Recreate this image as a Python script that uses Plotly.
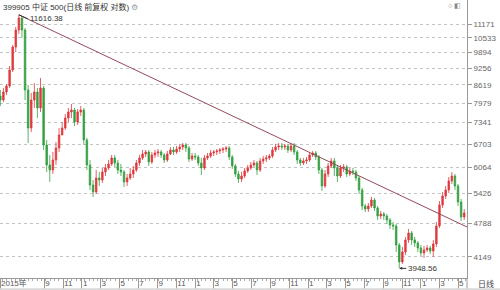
import math
import pandas as pd
import plotly.graph_objects as go

# ---- data (one candle per ~10 calendar days) ----
dates = pd.date_range("2015-04-12", periods=151, freq="10D")

open_ = [8223, 8084, 8365, 8581, 9185, 10130, 10889, 11461, 10889, 8436,
         7176, 8084, 8365, 7814, 8508, 6675, 6131, 6002, 6263, 6591,
         6966, 7176, 7486, 7682, 7747, 7362, 7682, 7747, 6819, 6131,
         5631, 5466, 5801, 5752, 5951, 6054, 6157, 6317, 6184, 6002,
         5951, 5704, 5801, 5900, 6002, 6184, 6317, 6425, 6480, 6210,
         6397, 6452, 6480, 6397, 6263, 6425, 6535, 6480, 6563, 6619,
         6675, 6591, 6290, 6370, 6343, 6184, 6054, 6317, 6370, 6452,
         6480, 6507, 6535, 6563, 6591, 6343, 6105, 5900, 5777, 5850,
         5977, 6054, 6131, 6184, 6002, 6237, 6290, 6317, 6370, 6535,
         6619, 6647, 6619, 6647, 6535, 6647, 6480, 6263, 6184, 6237,
         6263, 6397, 6452, 6343, 6002, 5607, 5900, 6105, 6237, 6054,
         5850, 6054, 6079, 5900, 5977, 5951, 5801, 5512, 5149, 5084,
         5149, 5282, 5106, 4935, 4977, 4935, 4852, 4749, 4729, 4362,
         4058, 4234, 4456, 4590, 4456, 4400, 4307, 4216, 4270, 4307,
         4252, 4381, 4729, 5171, 5373, 5512, 5728, 5850, 5607, 5238,
         4914]

close_ = [8084, 8365, 8581, 9185, 10130, 10889, 11461, 10889, 8436, 7176,
          8084, 8365, 7814, 8508, 6675, 6131, 6002, 6263, 6591, 6966,
          7176, 7486, 7682, 7747, 7362, 7682, 7747, 6819, 6131, 5631,
          5466, 5801, 5752, 5951, 6054, 6157, 6317, 6184, 6002, 5951,
          5704, 5801, 5900, 6002, 6184, 6317, 6425, 6480, 6210, 6397,
          6452, 6480, 6397, 6263, 6425, 6535, 6480, 6563, 6619, 6675,
          6591, 6290, 6370, 6343, 6184, 6054, 6317, 6370, 6452, 6480,
          6507, 6535, 6563, 6591, 6343, 6105, 5900, 5777, 5850, 5977,
          6054, 6131, 6184, 6002, 6237, 6290, 6317, 6370, 6535, 6619,
          6647, 6619, 6647, 6535, 6647, 6480, 6263, 6184, 6237, 6263,
          6397, 6452, 6343, 6002, 5607, 5900, 6105, 6237, 6054, 5850,
          6054, 6079, 5900, 5977, 5951, 5801, 5512, 5149, 5084, 5149,
          5282, 5106, 4935, 4977, 4935, 4852, 4749, 4729, 4362, 4058,
          4234, 4456, 4590, 4456, 4400, 4307, 4216, 4270, 4307, 4252,
          4381, 4729, 5171, 5373, 5512, 5728, 5850, 5607, 5238, 4914,
          4998]

high_ = [8436, 8508, 8654, 9343, 10216, 11030, 11616.38, 11558, 10983, 8617,
         8329, 8691, 8508, 8878, 8581, 6819, 6397, 6480, 6761, 7176,
         7362, 7617, 7814, 7948, 7814, 7780, 7881, 7814, 6878, 6263,
         5752, 6002, 5951, 6054, 6157, 6263, 6397, 6397, 6263, 6157,
         6002, 5900, 6054, 6105, 6263, 6397, 6535, 6535, 6535, 6480,
         6535, 6563, 6535, 6452, 6507, 6619, 6619, 6647, 6704, 6733,
         6733, 6647, 6452, 6452, 6397, 6317, 6397, 6452, 6535, 6535,
         6563, 6591, 6619, 6647, 6647, 6397, 6157, 5977, 5951, 6054,
         6131, 6210, 6263, 6237, 6317, 6370, 6397, 6425, 6619, 6704,
         6733, 6733, 6704, 6704, 6733, 6733, 6535, 6317, 6317, 6343,
         6452, 6507, 6507, 6397, 6054, 6002, 6184, 6317, 6317, 6131,
         6131, 6157, 6131, 6054, 6054, 6002, 5850, 5560, 5193, 5215,
         5350, 5328, 5149, 5041, 5020, 4977, 4894, 4811, 4770, 4400,
         4325, 4513, 4669, 4629, 4513, 4437, 4362, 4344, 4362, 4344,
         4456, 4811, 5260, 5466, 5607, 5826, 5951, 5900, 5655, 5305,
         5084]

low_ = [7881, 8016, 8258, 8508, 9108, 9917, 10706, 10526, 8084, 6733,
        7055, 7814, 7486, 7682, 6535, 5951, 5704, 5900, 6131, 6480,
        6996, 7115, 7362, 7486, 7237, 7268, 7552, 6675, 6002, 5512,
        5350, 5419, 5607, 5679, 5850, 6002, 6105, 6079, 5900, 5850,
        5583, 5607, 5752, 5801, 5951, 6105, 6263, 6343, 6105, 6157,
        6317, 6343, 6317, 6184, 6210, 6397, 6397, 6425, 6480, 6535,
        6480, 6210, 6237, 6263, 6105, 5875, 6002, 6263, 6317, 6370,
        6397, 6425, 6452, 6480, 6263, 6028, 5826, 5679, 5704, 5801,
        5926, 6002, 6079, 5875, 5951, 6157, 6210, 6263, 6317, 6480,
        6535, 6535, 6535, 6452, 6480, 6397, 6157, 6105, 6131, 6157,
        6210, 6343, 6263, 5900, 5489, 5560, 5826, 6054, 5850, 5704,
        5801, 5951, 5826, 5850, 5875, 5728, 5419, 5062, 5020, 5020,
        5106, 5041, 4852, 4873, 4852, 4770, 4669, 4649, 4234, 3948.56,
        4023, 4180, 4400, 4362, 4325, 4234, 4162, 4127, 4234, 4198,
        4145, 4325, 4689, 5106, 5305, 5442, 5655, 5512, 5149, 4831,
        4852]

y_ticks = [11171, 10533, 9894, 9256, 8619, 7979, 7341, 6703, 6064, 5426, 4788, 4149]

x_tick_dates = ["2015-04-11", "2015-09-01", "2015-11-01",
                "2016-01-01", "2016-03-01", "2016-05-01", "2016-07-01", "2016-09-01", "2016-11-01",
                "2017-01-01", "2017-03-01", "2017-05-01", "2017-07-01", "2017-09-01", "2017-11-01",
                "2018-01-01", "2018-03-01", "2018-05-01", "2018-07-01", "2018-09-01", "2018-11-01",
                "2019-01-01", "2019-03-01", "2019-05-01"]
x_tick_text = ["2015年", "9", "11",
               "1", "3", "5", "7", "9", "11",
               "1", "3", "5", "7", "9", "11",
               "1", "3", "5", "7", "9", "11",
               "1", "3", "5"]

trend_dates = ["2015-06-11", "2019-05-30"]
trend_values = [11616.38, 4709]

title_text = "399905 中证 500(日线 前复权 对数)"

# ---- figure ----
FONT = "Liberation Sans, Arial, Noto Sans CJK SC, sans-serif"
RED = "#e0393e"
GREEN = "#33a040"

fig = go.Figure()
fig.add_trace(go.Candlestick(
    x=dates, open=open_, high=high_, low=low_, close=close_,
    increasing=dict(line=dict(color=RED, width=0.8), fillcolor=RED),
    decreasing=dict(line=dict(color=GREEN, width=0.8), fillcolor=GREEN),
    hoverinfo="skip", showlegend=False,
))
fig.add_trace(go.Scatter(
    x=trend_dates, y=trend_values, mode="lines",
    line=dict(color="#94495a", width=1), hoverinfo="skip", showlegend=False,
))

i_hi = max(range(len(high_)), key=lambda i: high_[i])
i_lo = min(range(len(low_)), key=lambda i: low_[i])

annotations = [
    dict(x=dates[i_hi], y=math.log10(high_[i_hi]), xref="x", yref="y",
         text=f"{high_[i_hi]:.2f}", showarrow=True, arrowhead=0, arrowwidth=1,
         arrowcolor="#333", ax=9, ay=4, xanchor="left", yanchor="middle",
         font=dict(family=FONT, size=8, color="#333")),
    dict(x=dates[i_lo], y=math.log10(low_[i_lo]), xref="x", yref="y",
         text=f"{low_[i_lo]:.2f}", showarrow=True, arrowhead=2, arrowsize=0.6,
         arrowwidth=1, arrowcolor="#333", ax=7, ay=0, xanchor="left", yanchor="middle",
         font=dict(family=FONT, size=8, color="#333")),
    dict(x=0, y=1, xref="paper", yref="paper", xanchor="left", yanchor="top",
         text=title_text + " <span style='color:#999'>⚙</span>", showarrow=False,
         xshift=1, yshift=0, font=dict(family=FONT, size=8, color="#333")),
    dict(x=1, y=1, xref="paper", yref="paper", xanchor="right", yanchor="top",
         text="○ ◧", showarrow=False, xshift=-4, yshift=0,
         font=dict(family=FONT, size=7, color="#888")),
    dict(x=1, y=0, xref="paper", yref="paper", xanchor="left", yanchor="middle",
         text="日线", showarrow=False, xshift=9, yshift=-6,
         font=dict(family=FONT, size=8, color="#444")),
]

fig.update_layout(
    width=500, height=290,
    margin=dict(l=0, r=33, t=0, b=12),
    paper_bgcolor="white", plot_bgcolor="white",
    showlegend=False,
    annotations=annotations,
    shapes=[
        dict(type="line", xref="paper", yref="paper", x0=1, x1=1, y0=-0.05, y1=0,
             line=dict(color="#999", width=1)),
        dict(type="rect", xref="paper", yref="paper", x0=-0.01, x1=1.08,
             y0=-0.05, y1=-0.037, fillcolor="#d9d9d9", line=dict(width=0)),
    ],
    xaxis=dict(
        type="date", range=["2015-04-11", "2019-05-30"],
        rangeslider=dict(visible=False),
        showgrid=False, zeroline=False,
        showline=True, linecolor="#999", linewidth=1,
        ticks="outside", ticklen=10, tickcolor="#999", tickwidth=1,
        tickmode="array", tickvals=x_tick_dates, ticktext=x_tick_text,
        ticklabelposition="outside right", ticklabelstandoff=-3,
        tickfont=dict(family=FONT, size=8, color="#555"),
        minor=dict(ticks="outside", ticklen=2, tickcolor="#aaa",
                   dtick=14 * 86400000, showgrid=False),
    ),
    yaxis=dict(
        type="log", side="right",
        range=[math.log10(3790), math.log10(12372)],
        tickmode="array", tickvals=y_ticks, ticktext=[str(v) for v in y_ticks],
        showgrid=True, gridcolor="#c4c4c4", griddash="dot", gridwidth=1,
        zeroline=False,
        showline=True, linecolor="#999", linewidth=1,
        ticks="outside", ticklen=4, tickcolor="#999",
        tickfont=dict(family=FONT, size=8, color="#666"),
    ),
)

fig.write_html("out.html")
